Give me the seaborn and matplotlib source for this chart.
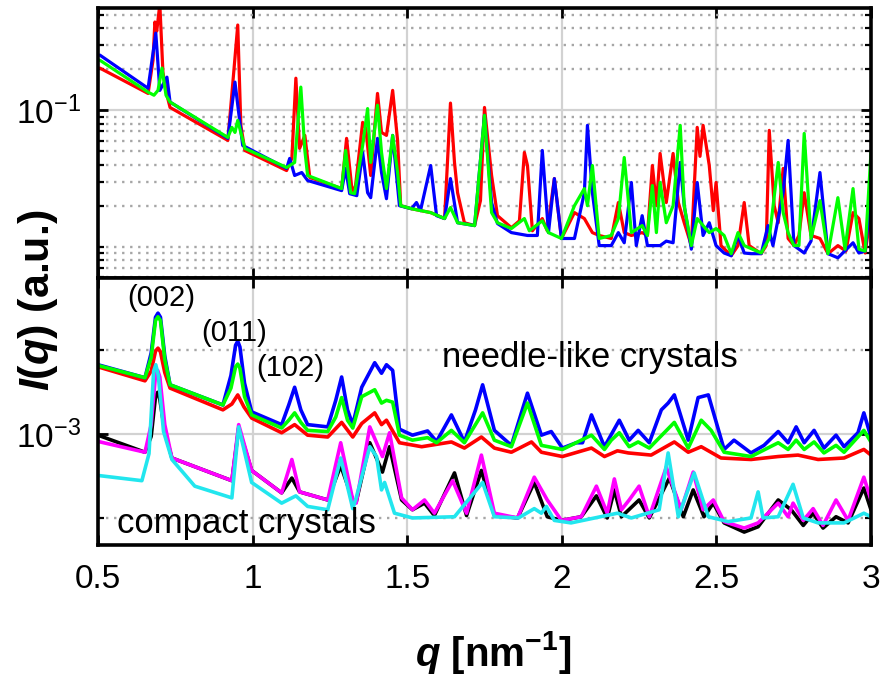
import matplotlib
matplotlib.use("Agg")
import matplotlib.pyplot as plt
import seaborn as sns
import pandas as pd

# ---------------- data ----------------
# Upper panel: raw intensity profiles, I(q) in a.u.
top_blue = [(0.506,0.254),(0.662,0.145),(0.687,0.368),(0.700,0.140),(0.723,0.175),(0.733,0.115),
    (0.920,0.0623),(0.943,0.161),(0.968,0.0553),(1.110,0.0375),(1.120,0.0444),(1.136,0.0333),
    (1.159,0.0350),(1.178,0.0306),(1.288,0.0258),(1.301,0.0375),(1.314,0.0245),(1.337,0.0237),
    (1.356,0.0491),(1.372,0.0249),(1.382,0.0229),(1.404,0.0623),(1.417,0.0350),(1.433,0.0225),
    (1.453,0.0655),(1.475,0.0200),(1.514,0.0190),(1.530,0.0211),(1.543,0.0184),(1.576,0.0394),
    (1.595,0.0169),(1.621,0.0161),(1.640,0.0316),(1.663,0.0150),(1.718,0.0143),(1.750,0.0919),
    (1.773,0.0211),(1.792,0.0148),(1.837,0.0127),(1.889,0.0121),(1.921,0.0121),(1.937,0.0508),
    (1.957,0.0127),(1.976,0.0316),(1.999,0.0115),(2.041,0.0115),(2.073,0.0249),(2.083,0.0776),
    (2.099,0.0249),(2.121,0.0102),(2.160,0.0102),(2.183,0.0127),(2.202,0.0107),(2.225,0.0296),
    (2.241,0.0102),(2.260,0.0169),(2.277,0.0102),(2.318,0.0102),(2.338,0.0110),(2.360,0.0107),
    (2.383,0.0415),(2.396,0.0200),(2.419,0.0096),(2.438,0.0296),(2.457,0.0121),(2.477,0.0150),
    (2.499,0.0102),(2.525,0.0090),(2.548,0.0086),(2.570,0.0121),(2.590,0.0090),(2.612,0.0089),
    (2.645,0.0089),(2.667,0.0143),(2.683,0.0102),(2.716,0.0249),(2.732,0.0602),(2.751,0.0102),
    (2.784,0.0090),(2.806,0.0110),(2.835,0.0350),(2.861,0.0089),(2.893,0.0083),(2.942,0.0107),
    (2.961,0.0090),(2.981,0.0093),(3.000,0.0250)]

top_red = [(0.506,0.204),(0.662,0.133),(0.678,0.233),(0.684,0.444),(0.690,0.380),(0.700,0.600),
    (0.710,0.190),(0.723,0.129),(0.733,0.105),(0.920,0.0602),(0.939,0.190),(0.952,0.422),
    (0.962,0.0776),(0.975,0.0508),(1.110,0.0362),(1.127,0.0444),(1.140,0.172),(1.152,0.0526),
    (1.169,0.0655),(1.185,0.0322),(1.288,0.0267),(1.304,0.0623),(1.320,0.0281),(1.330,0.0245),
    (1.356,0.0816),(1.366,0.0740),(1.382,0.0333),(1.404,0.133),(1.417,0.0689),(1.433,0.0655),
    (1.453,0.140),(1.469,0.0600),(1.479,0.0200),(1.514,0.0190),(1.576,0.0178),(1.621,0.0161),
    (1.640,0.113),(1.653,0.0415),(1.663,0.0249),(1.685,0.0150),(1.718,0.0143),(1.737,0.0218),
    (1.750,0.105),(1.773,0.0333),(1.792,0.0169),(1.837,0.0138),(1.863,0.0155),(1.879,0.0491),
    (1.889,0.0394),(1.905,0.0131),(1.937,0.0161),(1.953,0.0131),(1.976,0.0316),(1.999,0.0115),
    (2.041,0.0178),(2.073,0.0161),(2.099,0.0127),(2.121,0.0121),(2.160,0.0115),(2.183,0.0211),
    (2.202,0.0127),(2.225,0.0121),(2.260,0.0127),(2.277,0.0121),(2.293,0.0394),(2.306,0.0200),
    (2.318,0.0483),(2.338,0.0211),(2.360,0.0483),(2.377,0.0211),(2.396,0.0150),(2.419,0.0102),
    (2.438,0.0750),(2.447,0.0460),(2.457,0.0776),(2.477,0.0394),(2.490,0.0184),(2.499,0.0296),
    (2.515,0.0102),(2.548,0.0086),(2.570,0.0102),(2.590,0.0211),(2.606,0.0102),(2.645,0.0089),
    (2.661,0.0102),(2.671,0.0713),(2.687,0.0200),(2.700,0.0150),(2.716,0.0375),(2.732,0.0115),
    (2.751,0.0102),(2.767,0.0121),(2.784,0.0249),(2.806,0.0121),(2.835,0.0115),(2.861,0.0089),
    (2.893,0.0102),(2.919,0.0093),(2.942,0.0178),(2.961,0.0161),(2.981,0.0090),(3.000,0.0178)]

top_green = [(0.506,0.233),(0.662,0.136),(0.681,0.129),(0.694,0.140),(0.707,0.204),(0.720,0.129),
    (0.733,0.115),(0.920,0.0633),(0.933,0.0750),(0.943,0.0689),(0.952,0.0844),(0.975,0.0526),
    (1.110,0.0381),(1.136,0.0415),(1.156,0.148),(1.169,0.0508),(1.178,0.0333),(1.288,0.0267),
    (1.301,0.0508),(1.317,0.0249),(1.330,0.0245),(1.356,0.0553),(1.372,0.103),(1.382,0.0415),
    (1.404,0.109),(1.417,0.0491),(1.433,0.0267),(1.453,0.0655),(1.469,0.0350),(1.479,0.0200),
    (1.514,0.0190),(1.576,0.0178),(1.621,0.0161),(1.640,0.0194),(1.663,0.0150),(1.718,0.0143),
    (1.750,0.0919),(1.773,0.0178),(1.792,0.0150),(1.837,0.0136),(1.879,0.0161),(1.895,0.0131),
    (1.937,0.0155),(1.957,0.0127),(1.999,0.0115),(2.041,0.0200),(2.073,0.0267),(2.083,0.0200),
    (2.099,0.0394),(2.121,0.0115),(2.160,0.0121),(2.183,0.0161),(2.202,0.0451),(2.225,0.0127),
    (2.260,0.0143),(2.277,0.0121),(2.293,0.0281),(2.306,0.0127),(2.318,0.0296),(2.338,0.0150),
    (2.360,0.0200),(2.383,0.0776),(2.396,0.0200),(2.419,0.0102),(2.438,0.0161),(2.457,0.0143),
    (2.477,0.0127),(2.499,0.0136),(2.525,0.0121),(2.548,0.0089),(2.570,0.0127),(2.590,0.0102),
    (2.645,0.0090),(2.671,0.0115),(2.700,0.0415),(2.716,0.0178),(2.732,0.0127),(2.751,0.0102),
    (2.767,0.0102),(2.784,0.0677),(2.806,0.0115),(2.835,0.0218),(2.861,0.0089),(2.893,0.0229),
    (2.916,0.0096),(2.942,0.0267),(2.961,0.0096),(2.981,0.0093),(3.000,0.0491)]

# Lower panel: averaged profiles, I(q) in units of 1e-3 a.u.
needle_blue = [(0.500,1.77),(0.652,1.59),(0.672,1.95),(0.686,2.62),(0.694,2.71),(0.702,2.62),
    (0.716,1.90),(0.733,1.50),(0.904,1.27),(0.930,1.62),(0.945,2.08),(0.952,2.15),(0.959,2.05),
    (0.974,1.52),(0.997,1.20),(1.094,1.08),(1.117,1.27),
    (1.136,1.47),(1.156,1.22),(1.178,1.08),(1.243,1.06),(1.269,1.32),(1.288,1.60),(1.307,1.22),
    (1.324,1.08),(1.353,1.47),(1.395,1.80),(1.417,1.65),(1.433,1.77),(1.453,1.69),(1.475,1.04),
    (1.517,0.99),(1.566,1.025),(1.595,0.94),(1.643,1.17),(1.685,0.936),(1.721,1.22),(1.744,1.50),
    (1.782,1.03),(1.837,0.91),(1.889,1.40),(1.934,0.99),(1.966,1.02),(2.002,0.89),(2.047,0.93),
    (2.067,0.93),(2.096,1.17),(2.138,0.90),(2.186,1.12),(2.218,0.95),(2.247,1.03),(2.283,0.93),
    (2.322,1.22),(2.344,1.29),(2.364,1.38),(2.409,0.95),(2.441,1.35),(2.474,1.38),(2.525,0.88),
    (2.557,0.95),(2.612,0.855),(2.654,0.91),(2.700,1.02),(2.732,0.93),(2.758,1.06),(2.784,0.93),
    (2.816,1.03),(2.848,0.89),(2.887,0.99),(2.913,0.90),(2.958,1.01),(2.977,1.19),(3.000,0.975)]

needle_green = [(0.500,1.76),(0.652,1.59),(0.672,1.88),(0.686,2.55),(0.694,2.63),(0.702,2.55),
    (0.716,1.85),(0.733,1.50),(0.904,1.27),(0.930,1.46),(0.945,1.74),(0.952,1.78),(0.959,1.72),
    (0.974,1.36),(0.997,1.17),(1.094,1.05),(1.117,1.12),
    (1.136,1.19),(1.156,1.10),(1.178,1.03),(1.243,1.02),(1.269,1.15),(1.288,1.35),(1.307,1.12),
    (1.324,1.05),(1.353,1.36),(1.395,1.44),(1.417,1.29),(1.433,1.32),(1.453,1.30),(1.475,0.99),
    (1.517,0.95),(1.566,0.97),(1.595,0.93),(1.643,1.03),(1.685,0.93),(1.744,1.19),(1.782,0.95),
    (1.837,0.90),(1.889,1.29),(1.934,0.91),(2.002,0.88),(2.096,0.99),(2.138,0.88),(2.160,0.95),
    (2.186,1.01),(2.218,0.90),(2.247,0.936),(2.283,0.89),(2.364,1.10),(2.409,0.89),(2.451,1.12),
    (2.483,1.03),(2.525,0.86),(2.612,0.83),(2.700,0.93),(2.732,0.88),(2.758,0.95),(2.784,0.88),
    (2.816,0.936),(2.848,0.855),(2.887,0.91),(2.913,0.86),(2.977,1.03),(3.000,0.936)]

needle_red = [(0.500,1.74),(0.652,1.55),(0.672,1.68),(0.686,1.98),(0.694,2.03),(0.702,1.97),
    (0.716,1.66),(0.733,1.46),
    (0.904,1.22),(0.933,1.28),(0.952,1.38),(0.972,1.25),(0.997,1.14),(1.094,1.01),(1.136,1.08),
    (1.178,0.99),(1.243,0.975),(1.288,1.10),(1.324,0.975),(1.353,1.09),(1.395,1.19),(1.417,1.08),
    (1.433,1.12),(1.475,0.93),(1.547,0.90),(1.643,0.936),(1.685,0.89),(1.740,0.975),(1.782,0.89),
    (1.837,0.86),(1.902,0.936),(1.934,0.86),(2.002,0.83),(2.096,0.89),(2.138,0.83),(2.180,0.87),
    (2.215,0.855),(2.289,0.84),(2.364,0.936),(2.409,0.86),(2.451,0.90),(2.515,0.82),(2.612,0.81),
    (2.700,0.83),(2.764,0.84),(2.829,0.81),(2.913,0.82),(2.977,0.88),(3.000,0.84)]

compact_black = [(0.500,0.99),(0.652,0.86),(0.672,0.98),(0.686,1.36),(0.693,1.41),(0.700,1.33),
    (0.716,1.02),(0.739,0.82),
    (0.933,0.68),(0.955,1.05),(0.997,0.74),(1.094,0.615),(1.127,0.695),(1.152,0.62),(1.243,0.58),
    (1.285,0.77),(1.324,0.58),(1.335,0.57),(1.379,0.93),(1.420,0.73),(1.443,0.90),(1.482,0.58),
    (1.517,0.535),(1.556,0.565),(1.588,0.51),(1.653,0.725),(1.692,0.51),(1.740,0.74),(1.782,0.51),
    (1.857,0.50),(1.911,0.67),(1.953,0.505),(1.999,0.49),(2.063,0.505),(2.112,0.60),(2.147,0.50),
    (2.170,0.63),(2.193,0.505),(2.250,0.58),(2.283,0.50),(2.348,0.695),(2.393,0.505),(2.425,0.63),
    (2.460,0.505),(2.490,0.565),(2.525,0.48),(2.590,0.445),(2.635,0.465),(2.700,0.58),(2.742,0.535),
    (2.781,0.47),(2.813,0.52),(2.845,0.46),(2.887,0.505),(2.926,0.48),(2.977,0.64),(3.000,0.535)]

compact_magenta = [(0.500,0.94),(0.652,0.86),(0.672,1.08),(0.686,1.62),(0.693,1.69),(0.700,1.60),
    (0.716,1.08),(0.739,0.82),
    (0.933,0.68),(0.955,1.08),(0.997,0.74),(1.094,0.615),(1.127,0.81),(1.152,0.62),(1.243,0.58),
    (1.285,0.93),(1.324,0.58),(1.335,0.565),(1.379,1.06),(1.420,0.83),(1.443,1.01),(1.482,0.59),
    (1.517,0.535),(1.556,0.58),(1.588,0.52),(1.647,0.68),(1.692,0.52),(1.740,0.84),(1.782,0.52),
    (1.857,0.50),(1.911,0.70),(1.953,0.58),(1.999,0.49),(2.063,0.505),(2.112,0.65),(2.147,0.52),
    (2.170,0.69),(2.193,0.535),(2.218,0.58),(2.250,0.65),(2.283,0.505),(2.338,0.76),(2.386,0.535),
    (2.425,0.73),(2.457,0.535),(2.490,0.58),(2.525,0.485),(2.590,0.46),(2.635,0.48),(2.700,0.565),
    (2.732,0.505),(2.748,0.565),(2.781,0.49),(2.813,0.54),(2.845,0.47),(2.887,0.58),(2.926,0.49),
    (2.977,0.70),(3.000,0.58)]

compact_cyan = [(0.500,0.71),(0.642,0.68),(0.665,0.85),(0.680,1.68),(0.687,1.77),(0.695,1.62),
    (0.712,1.02),(0.739,0.81),
    (0.813,0.65),(0.933,0.59),(0.955,1.06),(0.997,0.67),(1.094,0.565),(1.140,0.60),(1.178,0.55),
    (1.243,0.535),(1.285,0.82),(1.324,0.54),(1.335,0.59),(1.379,0.90),(1.401,0.83),(1.417,0.63),
    (1.427,0.67),(1.459,0.52),(1.517,0.50),(1.653,0.505),(1.744,0.67),(1.782,0.505),(1.860,0.50),
    (1.911,0.54),(1.934,0.52),(1.950,0.55),(1.976,0.49),(2.030,0.48),(2.180,0.52),(2.225,0.50),
    (2.315,0.535),(2.344,0.855),(2.377,0.505),(2.428,0.725),(2.474,0.505),(2.538,0.485),
    (2.612,0.50),(2.635,0.62),(2.651,0.50),(2.700,0.505),(2.748,0.66),(2.781,0.50),(2.829,0.48),
    (2.913,0.48),(2.977,0.52),(3.000,0.505)]

x_ticks = [0.5, 1, 1.5, 2, 2.5, 3]
x_tick_labels = ["0.5", "1", "1.5", "2", "2.5", "3"]
peak_labels = [("(002)", 0.703, 3.07e-3), ("(011)", 0.939, 2.30e-3), ("(102)", 1.123, 1.73e-3)]
BOTTOM_UNIT = 1e-3

# ---------------- style ----------------
sns.set_theme(style="white")
plt.rcParams['font.family'] = ['Liberation Sans', 'DejaVu Sans']
plt.rcParams['text.color'] = 'black'
plt.rcParams['axes.labelcolor'] = 'black'
plt.rcParams['xtick.color'] = 'black'
plt.rcParams['ytick.color'] = 'black'
plt.rcParams['mathtext.fontset'] = 'custom'
plt.rcParams['mathtext.rm'] = 'Liberation Sans:bold'
plt.rcParams['mathtext.it'] = 'Liberation Sans:italic:bold'
plt.rcParams['mathtext.bf'] = 'Liberation Sans:bold'

fig = plt.figure(figsize=(8.82, 6.75), dpi=100)
ax1 = fig.add_axes([0.1111, 0.5881, 0.8764, 0.4000])
ax2 = fig.add_axes([0.1111, 0.1926, 0.8764, 0.3955])

def draw(ax, pts, color, scale=1.0, lw=2.4):
    df = pd.DataFrame(pts, columns=["q", "I"])
    df["I"] = df["I"] * scale
    sns.lineplot(data=df, x="q", y="I", ax=ax, color=color, lw=lw,
                 sort=False, estimator=None, legend=False,
                 solid_joinstyle="round", solid_capstyle="round")

for pts, c in [(top_red, "#ff0000"), (top_blue, "#0000ff"), (top_green, "#00ff00")]:
    draw(ax1, pts, c, lw=2.3)
for pts, c in [(needle_red, "#ff0000"), (needle_blue, "#0000ff"), (needle_green, "#00ff00"),
               (compact_black, "#000000"), (compact_magenta, "#ff00ff"), (compact_cyan, "#22e6ee")]:
    draw(ax2, pts, c, BOTTOM_UNIT, lw=2.6)

for ax in (ax1, ax2):
    ax.set_yscale("log")
    ax.set_xlim(0.5, 3.0)
    ax.set_xlabel("")
    ax.set_ylabel("")
    ax.set_xticks(x_ticks)
    ax.set_axisbelow(True)
    ax.grid(True, which="major", axis="both", color="#d2d2d2", lw=1.6, ls="-")
    ax.grid(True, which="minor", axis="y", color="#a6a6a6", lw=1.7, ls=(0, (1.0, 2.4)))
    ax.tick_params(which="both", direction="in", top=True, right=True, bottom=True, left=True,
                   colors="black")
    ax.tick_params(which="major", length=7, width=2.0, labelsize=24, labelcolor="black")
    ax.tick_params(which="minor", length=4, width=1.6)
    ax.tick_params(axis="y", which="major", pad=12)
    ax.tick_params(axis="x", which="major", pad=14)
    for s in ax.spines.values():
        s.set_color("black")
        s.set_linewidth(2.6)

ax1.set_ylim(0.0059, 0.562)
ax1.set_yticks([0.1])
ax1.set_yticklabels([r"$\mathregular{10^{-1}}$"])
ax1.set_yticks([0.006, 0.007, 0.008, 0.009, 0.01, 0.02, 0.03, 0.04, 0.05, 0.06, 0.07, 0.08, 0.09,
                0.2, 0.3, 0.4, 0.5], minor=True)
ax1.yaxis.set_minor_formatter(matplotlib.ticker.NullFormatter())
ax1.set_xticklabels([])

ax2.set_ylim(4.0e-4, 3.62e-3)
ax2.set_yticks([1e-3])
ax2.set_yticklabels([r"$\mathregular{10^{-3}}$"])
ax2.set_yticks([5e-4, 2e-3], minor=True)
ax2.yaxis.set_minor_formatter(matplotlib.ticker.NullFormatter())
ax2.set_xticklabels(x_tick_labels)

for txt, qx, iy in peak_labels:
    ax2.text(qx, iy, txt, fontsize=21, ha="center", va="center", color="black")
ax2.text(1.611, 1.74e-3, "needle-like crystals", fontsize=25, ha="left", va="baseline", color="black")
ax2.text(0.561, 0.44e-3, "compact crystals", fontsize=25, ha="left", va="baseline", color="black")

fig.text(493 / 882, 1 - 652 / 675, r"$\mathit{q}$ [nm$^{-1}$]", fontsize=29, fontweight="bold",
         ha="center", va="center", color="black")
fig.text(38 / 882, 1 - 300 / 675, r"$\mathit{I(q)}$ (a.u.)", fontsize=31, fontweight="bold",
         rotation=90, ha="center", va="center", color="black")

fig.savefig("out.png", dpi=100)
